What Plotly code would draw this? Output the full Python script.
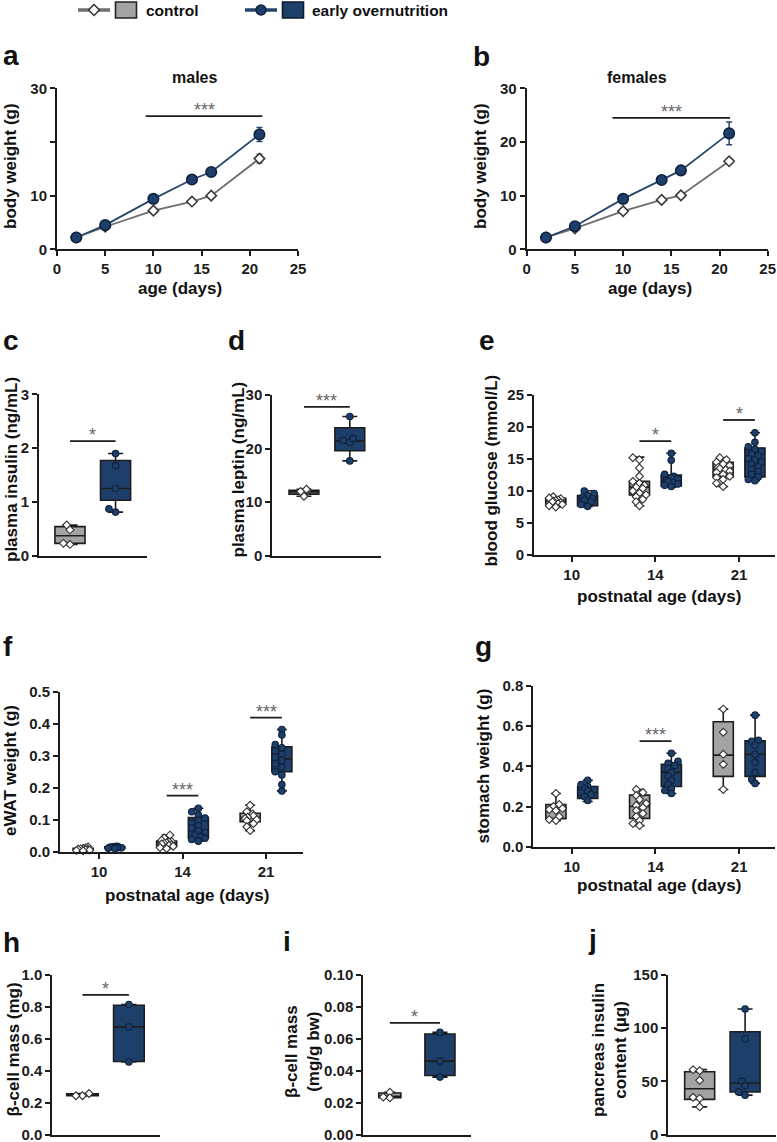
import plotly.graph_objects as go

# ---------------- data ----------------
days = [2, 5, 10, 14, 16, 21]
males_ctrl = [2.2, 4.2, 7.2, 8.9, 10.0, 16.9]
males_ctrl_sem = [0.1, 0.2, 0.3, 0.3, 0.3, 0.8]
males_eon = [2.2, 4.5, 9.4, 13.0, 14.4, 21.4]
males_eon_sem = [0.1, 0.2, 0.3, 0.5, 0.7, 1.3]
females_ctrl = [2.2, 3.9, 7.1, 9.2, 10.05, 16.4]
females_ctrl_sem = [0.1, 0.2, 0.4, 0.3, 0.3, 0.5]
females_eon = [2.2, 4.3, 9.4, 12.9, 14.7, 21.6]
females_eon_sem = [0.1, 0.2, 0.3, 0.5, 0.8, 2.1]

age_labels = ["10", "14", "21"]

# box stats: [min, q1, median, q3, max]
insulin_ctrl = [0.57, 0.48, 0.21, 0.23]
insulin_eon = [1.90, 1.67, 1.25, 0.87, 0.81]
insulin_ctrl_box = [0.21, 0.23, 0.37, 0.54, 0.57]
insulin_eon_box = [0.81, 1.03, 1.25, 1.77, 1.90]

leptin_ctrl = [12.2, 11.1, 12.0, 12.4]
leptin_eon = [26.0, 21.5, 21.2, 21.9, 17.7]
leptin_ctrl_box = [11.1, 11.5, 11.9, 12.2, 12.4]
leptin_eon_box = [17.7, 19.6, 21.4, 23.9, 26.0]

glucose_ctrl = [
    [9.1, 8.9, 8.8, 8.6, 8.5, 8.4, 8.3, 8.2, 8.0, 7.9, 7.7, 7.5],
    [15.2, 14.9, 13.6, 12.3, 11.5, 11.2, 10.9, 10.6, 10.4, 10.0, 9.7, 9.4, 9.1, 8.7, 8.3, 7.7],
    [15.2, 14.9, 14.5, 14.2, 14.0, 13.7, 13.5, 13.3, 13.1, 12.9, 12.6, 12.3, 12.1, 11.8, 11.2, 10.7],
]
glucose_eon = [
    [10.0, 9.6, 9.3, 9.0, 8.8, 8.6, 8.3, 7.9, 7.6],
    [15.9, 14.8, 12.6, 12.3, 12.1, 11.9, 11.7, 11.5, 11.3, 11.1, 10.9, 10.7],
    [19.1, 17.6, 16.9, 16.5, 16.2, 15.8, 15.5, 15.1, 14.8, 14.5, 14.2, 13.8, 13.4, 13.0, 12.6, 12.2, 11.8, 11.6],
]
glucose_ctrl_box = [[7.5, 7.97, 8.44, 8.86, 9.1], [7.7, 9.4, 10.6, 11.5, 15.3], [10.7, 12.2, 13.3, 14.5, 15.2]]
glucose_eon_box = [[7.55, 7.7, 8.7, 9.27, 10.05], [10.6, 10.8, 11.6, 12.5, 15.9], [11.6, 12.2, 14.6, 16.7, 19.1]]

ewat_ctrl = [
    [0.015, 0.012, 0.010, 0.009, 0.008, 0.007, 0.006, 0.005, 0.004, 0.003],
    [0.052, 0.043, 0.036, 0.032, 0.030, 0.028, 0.026, 0.024, 0.022, 0.020, 0.017, 0.013, 0.010],
    [0.145, 0.125, 0.118, 0.112, 0.108, 0.104, 0.100, 0.097, 0.088, 0.078, 0.066],
]
ewat_eon = [
    [0.017, 0.016, 0.015, 0.014, 0.013, 0.012, 0.012, 0.011, 0.010],
    [0.136, 0.125, 0.115, 0.105, 0.098, 0.090, 0.082, 0.074, 0.066, 0.060, 0.052, 0.047, 0.042, 0.038, 0.033],
    [0.382, 0.365, 0.335, 0.325, 0.315, 0.305, 0.295, 0.285, 0.275, 0.265, 0.250, 0.240, 0.210, 0.190],
]
ewat_ctrl_box = [[0.003, 0.005, 0.008, 0.011, 0.015], [0.010, 0.019, 0.026, 0.033, 0.052], [0.066, 0.094, 0.107, 0.120, 0.145]]
ewat_eon_box = [[0.010, 0.011, 0.013, 0.015, 0.017], [0.033, 0.042, 0.068, 0.107, 0.136], [0.190, 0.250, 0.290, 0.328, 0.382]]

stomach_ctrl = [
    [0.265, 0.21, 0.20, 0.19, 0.185, 0.18, 0.15, 0.135, 0.13],
    [0.285, 0.27, 0.255, 0.235, 0.215, 0.205, 0.195, 0.18, 0.165, 0.15, 0.13, 0.115, 0.105],
    [0.685, 0.57, 0.46, 0.41, 0.285],
]
stomach_eon = [
    [0.33, 0.31, 0.30, 0.29, 0.285, 0.28, 0.27, 0.26, 0.25, 0.23],
    [0.465, 0.425, 0.415, 0.405, 0.39, 0.37, 0.35, 0.33, 0.31, 0.29, 0.28, 0.265],
    [0.655, 0.53, 0.525, 0.505, 0.46, 0.42, 0.37, 0.335, 0.315],
]
stomach_ctrl_box = [[0.13, 0.14, 0.186, 0.21, 0.265], [0.105, 0.141, 0.20, 0.257, 0.285], [0.285, 0.35, 0.456, 0.622, 0.685]]
stomach_eon_box = [[0.225, 0.24, 0.28, 0.30, 0.33], [0.265, 0.30, 0.37, 0.41, 0.465], [0.315, 0.35, 0.46, 0.527, 0.655]]

bcell_ctrl = [0.257, 0.243, 0.243]
bcell_eon = [0.815, 0.675, 0.455]
bcell_ctrl_box = [0.243, 0.243, 0.248, 0.255, 0.257]
bcell_eon_box = [0.455, 0.458, 0.675, 0.81, 0.815]

bcellbw_ctrl = [0.0265, 0.023, 0.0235]
bcellbw_eon = [0.064, 0.046, 0.036]
bcellbw_ctrl_box = [0.023, 0.023, 0.024, 0.026, 0.0265]
bcellbw_eon_box = [0.036, 0.037, 0.046, 0.063, 0.064]

pins_ctrl = [61, 60, 51, 35, 34, 26]
pins_eon = [118, 90, 50, 46, 40, 37]
pins_ctrl_box = [26, 33, 43, 59, 61]
pins_eon_box = [37, 40, 48.4, 96.6, 118]

# significance: (panel, group index, height, label)
sig_bars = [
    ("c", 0, 2.13, "*"), ("d", 0, 27.8, "***"),
    ("e", 1, 17.8, "*"), ("e", 2, 21.1, "*"),
    ("f", 1, 0.175, "***"), ("f", 2, 0.419, "***"),
    ("g", 1, 0.526, "***"),
    ("h", 0, 0.876, "*"), ("i", 0, 0.07, "*"),
]
sig_time = [("a", 9.2, 21.3, 24.8, "***"), ("b", 8.9, 21.1, 24.5, "***")]

# ---------------- style / layout ----------------
W, H = 777, 1142
FONT = "Liberation Sans, Arial, sans-serif"
AX = "#1c1c1c"
CTRL_LINE = "#6e6e6e"
EON_LINE = "#27466e"
EON_FILL = "#1f3f6b"
EON_EDGE = "#0f223d"
CTRL_FILL = "#a3a3a3"


def fx(p):
    return p / W


def fy(p):
    return 1 - p / H


P = {
    'a': dict(n=1, xd=(57, 298), yd=(88.3, 249.3), xr=(0, 25), yr=(0, 30)),
    'b': dict(n=2, xd=(526.7, 767.7), yd=(88.3, 249.3), xr=(0, 25), yr=(0, 30)),
    'c': dict(n=3, xd=(39, 147), yd=(394.3, 555.7), xr=(-0.68, 1.69), yr=(0, 3), bw=(0.66, 0.66)),
    'd': dict(n=4, xd=(272.3, 381), yd=(395, 555.7), xr=(-0.69, 1.68), yr=(0, 30), bw=(0.65, 0.65)),
    'e': dict(n=5, xd=(534, 775), yd=(395, 555), xr=(-0.45, 2.43), yr=(0, 25), bw=(0.24, 0.24)),
    'f': dict(n=6, xd=(60, 303), yd=(691.7, 851.7), xr=(-0.467, 2.443), yr=(0, 0.5), bw=(0.24, 0.24)),
    'g': dict(n=7, xd=(533.3, 775), yd=(686, 846.7), xr=(-0.46, 2.428), yr=(0, 0.8), bw=(0.24, 0.24)),
    'h': dict(n=8, xd=(52.3, 160), yd=(975, 1134.5), xr=(-0.65, 1.67), yr=(0, 1.0), bw=(0.68, 0.66)),
    'i': dict(n=9, xd=(363.3, 471), yd=(975, 1134.5), xr=(-0.53, 1.62), yr=(0, 0.1), bw=(0.44, 0.6)),
    'j': dict(n=10, xd=(668.3, 776), yd=(975, 1134.5), xr=(-0.69, 1.68), yr=(0, 150), bw=(0.66, 0.66)),
}
GROUP_OFF = 0.19


def axn(k):
    n = P[k]['n']
    return ("x" if n == 1 else f"x{n}"), ("y" if n == 1 else f"y{n}")


def ppu(k):
    p = P[k]
    return ((p['xd'][1] - p['xd'][0]) / (p['xr'][1] - p['xr'][0]),
            (p['yd'][1] - p['yd'][0]) / (p['yr'][1] - p['yr'][0]))


def swarm(values, center, k, dia=5.5, max_half=9.0):
    xp, yp = ppu(k)
    placed = []
    xs = [0.0] * len(values)
    order = sorted(range(len(values)), key=lambda i: values[i])
    for i in order:
        ypx = values[i] * yp
        best = 0.0
        found = False
        for step in range(0, 12):
            for sgn in ([0] if step == 0 else [-1, 1]):
                off = sgn * step * dia * 0.6
                if abs(off) > max_half:
                    continue
                if all((off - ox) ** 2 + (ypx - oy) ** 2 >= (dia * 0.9) ** 2 for ox, oy in placed):
                    best = off
                    found = True
                    break
            if found:
                break
        if not found:
            best = ((len(placed) % 5) - 2) * dia * 0.45
        placed.append((best, ypx))
        xs[i] = center + best / xp
    return xs


fig = go.Figure()

# ---------- line panels ----------
for k, ctrl, csem, eon, esem in [("a", males_ctrl, males_ctrl_sem, males_eon, males_eon_sem),
                                 ("b", females_ctrl, females_ctrl_sem, females_eon, females_eon_sem)]:
    xa, ya = axn(k)
    fig.add_trace(go.Scatter(x=days, y=ctrl, mode="lines+markers", xaxis=xa, yaxis=ya,
                             line=dict(color=CTRL_LINE, width=1.8),
                             marker=dict(symbol="diamond", size=8, color="white", line=dict(color="#3a3a3a", width=1.6)),
                             error_y=dict(type="data", array=csem, color=CTRL_LINE, thickness=1.5, width=3),
                             showlegend=False, cliponaxis=False))
    fig.add_trace(go.Scatter(x=days, y=eon, mode="lines+markers", xaxis=xa, yaxis=ya,
                             line=dict(color=EON_LINE, width=1.8),
                             marker=dict(symbol="circle", size=10.5, color=EON_FILL, line=dict(color=EON_EDGE, width=1.6)),
                             error_y=dict(type="data", array=esem, color=EON_LINE, thickness=1.5, width=3),
                             showlegend=False, cliponaxis=False))


def add_box(k, pos, stats, pts, ctrl, width):
    xa, ya = axn(k)
    fig.add_trace(go.Box(x=[pos], lowerfence=[stats[0]], q1=[stats[1]], median=[stats[2]],
                         q3=[stats[3]], upperfence=[stats[4]], orientation="v",
                         width=width, whiskerwidth=0.5, boxpoints=False,
                         fillcolor=CTRL_FILL if ctrl else EON_FILL,
                         line=dict(color=AX, width=1.6), xaxis=xa, yaxis=ya,
                         showlegend=False, hoverinfo="skip"))
    xs = swarm(pts, pos, k)
    if ctrl:
        mk = dict(symbol="diamond", size=6, color="white", line=dict(color="#333333", width=1.1))
    else:
        mk = dict(symbol="circle", size=6.5, color=EON_FILL, line=dict(color=EON_EDGE, width=1.1))
    fig.add_trace(go.Scatter(x=xs, y=pts, mode="markers", marker=mk, xaxis=xa, yaxis=ya,
                             showlegend=False, cliponaxis=False, hoverinfo="skip"))


for k, cp, ep, cb, eb in [("c", insulin_ctrl, insulin_eon, insulin_ctrl_box, insulin_eon_box),
                          ("d", leptin_ctrl, leptin_eon, leptin_ctrl_box, leptin_eon_box),
                          ("h", bcell_ctrl, bcell_eon, bcell_ctrl_box, bcell_eon_box),
                          ("i", bcellbw_ctrl, bcellbw_eon, bcellbw_ctrl_box, bcellbw_eon_box),
                          ("j", pins_ctrl, pins_eon, pins_ctrl_box, pins_eon_box)]:
    add_box(k, 0, cb, cp, True, P[k]['bw'][0])
    add_box(k, 1, eb, ep, False, P[k]['bw'][1])

for k, cp, ep, cb, eb in [("e", glucose_ctrl, glucose_eon, glucose_ctrl_box, glucose_eon_box),
                          ("f", ewat_ctrl, ewat_eon, ewat_ctrl_box, ewat_eon_box),
                          ("g", stomach_ctrl, stomach_eon, stomach_ctrl_box, stomach_eon_box)]:
    for gi in range(len(age_labels)):
        add_box(k, gi - GROUP_OFF, cb[gi], cp[gi], True, P[k]['bw'][0])
        add_box(k, gi + GROUP_OFF, eb[gi], ep[gi], False, P[k]['bw'][1])

# ---------- axes ----------
tickfont = dict(family=FONT, size=15, color=AX, weight="bold")
layout = {}
yticks = {
    'a': dict(tickvals=[0, 10, 20, 30], ticktext=["0", "10", "", "30"]),
    'b': dict(tickvals=[0, 10, 20, 30]),
    'c': dict(tickvals=[0, 1, 2, 3]),
    'd': dict(tickvals=[0, 10, 20, 30]),
    'e': dict(tickvals=[0, 5, 10, 15, 20, 25]),
    'f': dict(tickvals=[0, 0.1, 0.2, 0.3, 0.4, 0.5], tickformat=".1f"),
    'g': dict(tickvals=[0, 0.2, 0.4, 0.6, 0.8], tickformat=".1f"),
    'h': dict(tickvals=[0, 0.2, 0.4, 0.6, 0.8, 1.0], tickformat=".1f"),
    'i': dict(tickvals=[0, 0.02, 0.04, 0.06, 0.08, 0.10], tickformat=".2f"),
    'j': dict(tickvals=[0, 50, 100, 150]),
}
for k, p in P.items():
    n = p['n']
    xk = "xaxis" if n == 1 else f"xaxis{n}"
    yk = "yaxis" if n == 1 else f"yaxis{n}"
    xa, ya = axn(k)
    common = dict(showline=True, linecolor=AX, linewidth=2, showgrid=False, zeroline=False,
                  tickfont=tickfont, ticklen=5, tickwidth=2, tickcolor=AX, fixedrange=True,
                  automargin=False, ticklabeloverflow="allow")
    xcfg = dict(common, domain=[fx(p['xd'][0]), fx(p['xd'][1])], range=list(p['xr']), anchor=ya)
    if k in ("a", "b"):
        xcfg.update(tickvals=[0, 5, 10, 15, 20, 25], ticks="outside")
    elif k in ("e", "f", "g"):
        xcfg.update(tickvals=[0, 1, 2], ticktext=age_labels, ticks="outside")
    else:
        xcfg.update(ticks="", showticklabels=False)
    ycfg = dict(common, domain=[fy(p['yd'][1]), fy(p['yd'][0])], range=list(p['yr']), anchor=xa,
                ticks="outside", **yticks[k])
    layout[xk] = xcfg
    layout[yk] = ycfg

# ---------- significance bars ----------
shapes = []
annotations = []
STAR = dict(family=FONT, size=18, color="#666666")
for k, gi, yv, lab in sig_bars:
    xa, ya = axn(k)
    if k in ("e", "f", "g"):
        x0, x1 = gi - GROUP_OFF, gi + GROUP_OFF
    else:
        x0, x1 = 0, 1
    shapes.append(dict(type="line", xref=xa, yref=ya, x0=x0, x1=x1, y0=yv, y1=yv,
                       line=dict(color=AX, width=1.8)))
    annotations.append(dict(x=(x0 + x1) / 2, y=yv, xref=xa, yref=ya, text=lab, showarrow=False,
                            yanchor="bottom", yshift=-6, font=STAR))
for k, x0, x1, yv, lab in sig_time:
    xa, ya = axn(k)
    shapes.append(dict(type="line", xref=xa, yref=ya, x0=x0, x1=x1, y0=yv, y1=yv,
                       line=dict(color=AX, width=1.8)))
    annotations.append(dict(x=(x0 + x1) / 2, y=yv, xref=xa, yref=ya, text=lab, showarrow=False,
                            yanchor="bottom", yshift=-6, font=STAR))


# ---------- text ----------
def txt(text, x, y, size, angle=0, xanchor="center", yanchor="middle", weight="bold", family=FONT):
    annotations.append(dict(text=text, x=fx(x), y=fy(y), xref="paper", yref="paper", showarrow=False,
                            textangle=angle, xanchor=xanchor, yanchor=yanchor,
                            font=dict(family=family, size=size, color="#111111", weight=weight)))


for lab, x, y in [("a", 1, 66), ("b", 471, 67), ("c", 1, 351), ("d", 226, 351), ("e", 477, 351),
                  ("f", 1, 657), ("g", 473, 657), ("h", 1, 953), ("i", 281, 952), ("j", 586, 950)]:
    txt(lab, x, y + 7, 28, xanchor="left", yanchor="bottom")

txt("males", 194, 78, 16)
txt("females", 637, 78, 16)
txt("age (days)", 180, 288, 17)
txt("age (days)", 650, 288, 17)
txt("postnatal age (days)", 659, 596, 17)
txt("postnatal age (days)", 187, 895, 17)
txt("postnatal age (days)", 659, 885, 17)

txt("body weight (g)", 11, 166, 17, angle=-90)
txt("body weight (g)", 481, 166, 17, angle=-90)
txt("plasma insulin (ng/mL)", 11, 470, 17, angle=-90)
txt("plasma leptin (ng/mL)", 237.5, 470, 17, angle=-90)
txt("blood glucose (mmol/L)", 490.5, 470, 17, angle=-90)
txt("eWAT weight (g)", 10, 771, 17, angle=-90)
txt("stomach weight (g)", 482.5, 766, 17, angle=-90)
txt("β-cell mass (mg)", 12.5, 1050, 17, angle=-90)
txt("β-cell mass<br>(mg/g bw)", 302, 1052, 17, angle=-90)
txt("pancreas insulin<br>content (µg)", 609, 1050, 17, angle=-90)

# ---------- legend (drawn) ----------
shapes += [
    dict(type="line", xref="paper", yref="paper", x0=fx(78), x1=fx(110), y0=fy(10), y1=fy(10),
         line=dict(color=CTRL_LINE, width=3.5)),
    dict(type="path", xref="paper", yref="paper",
         path=f"M {fx(94)} {fy(4.5)} L {fx(99.5)} {fy(10)} L {fx(94)} {fy(15.5)} L {fx(88.5)} {fy(10)} Z",
         fillcolor="white", line=dict(color="#333333", width=1.5)),
    dict(type="rect", xref="paper", yref="paper", x0=fx(115.5), x1=fx(136.5), y0=fy(2), y1=fy(18),
         fillcolor=CTRL_FILL, line=dict(color="#222222", width=1.6)),
    dict(type="line", xref="paper", yref="paper", x0=fx(245), x1=fx(277), y0=fy(10), y1=fy(10),
         line=dict(color=EON_LINE, width=3.5)),
    dict(type="circle", xref="paper", yref="paper", x0=fx(256), x1=fx(266), y0=fy(5), y1=fy(15),
         fillcolor=EON_FILL, line=dict(color=EON_EDGE, width=1.5)),
    dict(type="rect", xref="paper", yref="paper", x0=fx(282.5), x1=fx(303.5), y0=fy(2), y1=fy(18),
         fillcolor=EON_FILL, line=dict(color="#0d1a2e", width=1.6)),
]
txt("control", 144, 10, 15.5, xanchor="left")
txt("early overnutrition", 310, 10, 15.5, xanchor="left")

fig.update_layout(width=W, height=H, margin=dict(l=0, r=0, t=0, b=0, pad=0, autoexpand=False),
                  paper_bgcolor="white", plot_bgcolor="white",
                  font=dict(family=FONT, color=AX), showlegend=False,
                  shapes=shapes, annotations=annotations, **layout)

post = (
    "var st=document.createElement('style');"
    "st.innerHTML='html,body{margin:0!important;padding:0!important;overflow:hidden;}';"
    "document.head.appendChild(st);"
)
fig.write_html("out.html", post_script=post, config={"displayModeBar": False})
